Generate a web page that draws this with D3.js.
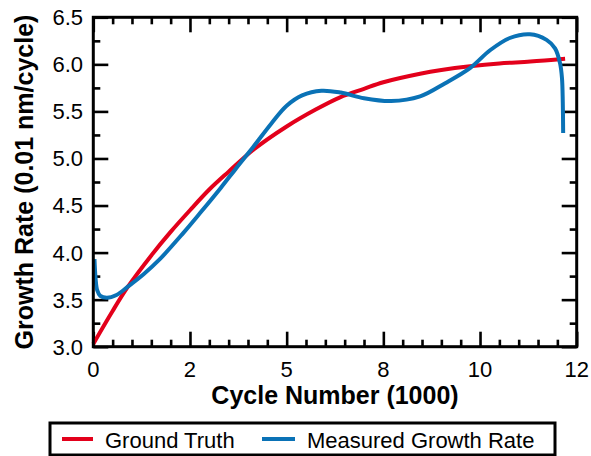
<!DOCTYPE html>
<html>
<head>
<meta charset="utf-8">
<script src="https://cdn.jsdelivr.net/npm/d3@7"></script>
<style>
  html, body { margin: 0; padding: 0; background: #fff; }
  svg { display: block; font-family: "Liberation Sans", Arial, sans-serif; }
</style>
</head>
<body>
<svg id="chart" width="591" height="456"></svg>
<script>
// Cycle number in thousands, growth rate in 0.01 nm/cycle
const groundTruthX = [0, 0.5, 0.9, 1.5, 2.0, 2.5, 3.0, 3.5, 4.13, 5.0, 5.75, 6.38, 7.0, 7.5, 8.45, 9.0, 9.74, 10.5, 11.3, 12.2];
const groundTruthY = [3.03, 3.38, 3.64, 3.97, 4.22, 4.45, 4.67, 4.86, 5.09, 5.34, 5.52, 5.65, 5.74, 5.81, 5.90, 5.94, 5.98, 6.01, 6.03, 6.06];

const measuredX = [0.03, 0.06, 0.1, 0.18, 0.35, 0.6, 0.9, 1.3, 1.72, 2.33, 2.76, 3.3, 3.7, 4.13, 4.6, 5.0, 5.4, 5.9, 6.4, 7.0, 7.7, 8.45, 9.1, 9.74, 10.26, 10.77, 11.29, 11.72, 11.94, 12.07, 12.12, 12.14, 12.15];
const measuredY = [3.93, 3.72, 3.60, 3.54, 3.52, 3.55, 3.64, 3.77, 3.93, 4.21, 4.42, 4.69, 4.90, 5.12, 5.37, 5.56, 5.67, 5.72, 5.70, 5.64, 5.61, 5.66, 5.80, 5.96, 6.15, 6.28, 6.32, 6.26, 6.17, 6.01, 5.85, 5.60, 5.27];

const xTickValues = [0, 2.5, 5, 7.5, 10, 12.5];
const xTickLabels = ["0", "2", "5", "8", "10", "12"];
const yTickValues = [3.0, 3.5, 4.0, 4.5, 5.0, 5.5, 6.0, 6.5];
const yTickLabels = ["3.0", "3.5", "4.0", "4.5", "5.0", "5.5", "6.0", "6.5"];

const seriesNames = ["Ground Truth", "Measured Growth Rate"];
const seriesColors = ["#e3001b", "#0a72b6"];

const svg = d3.select("#chart");
const plot = { left: 93.3, right: 576.7, top: 17.3, bottom: 346.7 };

const x = d3.scaleLinear().domain([0, 12.5]).range([plot.left, plot.right]);
const y = d3.scaleLinear().domain([3.0, 6.5]).range([plot.bottom, plot.top]);

const majorLen = 15, minorLen = 7;
const xMinor = d3.range(0, 12.5001, 0.5).filter(v => !xTickValues.some(t => Math.abs(t - v) < 1e-6));
const yMinor = d3.range(3.25, 6.5, 0.5);

// Inward ticks on all four sides
function tickAxis(axisGen, transform, values, len) {
  const g = svg.append("g").attr("transform", transform)
    .call(axisGen.tickValues(values).tickSize(-len).tickFormat(""));
  g.select(".domain").remove();
  g.selectAll(".tick line").attr("stroke", "#000").attr("stroke-width", 2.6);
  return g;
}
tickAxis(d3.axisBottom(x), `translate(0,${plot.bottom})`, xTickValues, majorLen);
tickAxis(d3.axisBottom(x), `translate(0,${plot.bottom})`, xMinor, minorLen);
tickAxis(d3.axisTop(x), `translate(0,${plot.top})`, xTickValues, majorLen);
tickAxis(d3.axisTop(x), `translate(0,${plot.top})`, xMinor, minorLen);
tickAxis(d3.axisLeft(y), `translate(${plot.left},0)`, yTickValues, majorLen);
tickAxis(d3.axisLeft(y), `translate(${plot.left},0)`, yMinor, minorLen);
tickAxis(d3.axisRight(y), `translate(${plot.right},0)`, yTickValues, majorLen);
tickAxis(d3.axisRight(y), `translate(${plot.right},0)`, yMinor, minorLen);

// Tick labels
svg.append("g").selectAll("text").data(xTickValues).join("text")
  .attr("x", d => x(d)).attr("y", 377)
  .attr("text-anchor", "middle").attr("font-size", 22).attr("fill", "#000")
  .text((d, i) => xTickLabels[i]);
svg.append("g").selectAll("text").data(yTickValues).join("text")
  .attr("x", 83).attr("y", d => y(d)).attr("dy", "0.36em")
  .attr("text-anchor", "end").attr("font-size", 22).attr("fill", "#000")
  .text((d, i) => yTickLabels[i]);

// Axis titles
svg.append("text")
  .attr("x", (plot.left + plot.right) / 2).attr("y", 403.5)
  .attr("text-anchor", "middle").attr("font-size", 25).attr("font-weight", "bold")
  .text("Cycle Number (1000)");
svg.append("text")
  .attr("transform", `translate(33,${(plot.top + plot.bottom) / 2}) rotate(-90)`)
  .attr("text-anchor", "middle").attr("font-size", 25).attr("font-weight", "bold")
  .text("Growth Rate (0.01 nm/cycle)");

// Curves
const line = d3.line().x(d => x(d[0])).y(d => y(d[1])).curve(d3.curveCatmullRom.alpha(0.5));
const gtPts = groundTruthX.map((v, i) => [v, groundTruthY[i]]);
const mPts = measuredX.map((v, i) => [v, measuredY[i]]);

svg.append("path").datum(gtPts).attr("d", line)
  .attr("fill", "none").attr("stroke", seriesColors[0]).attr("stroke-width", 4);
svg.append("path").datum(mPts).attr("d", line)
  .attr("fill", "none").attr("stroke", seriesColors[1]).attr("stroke-width", 4);

// Plot frame
svg.append("rect")
  .attr("x", plot.left).attr("y", plot.top)
  .attr("width", plot.right - plot.left).attr("height", plot.bottom - plot.top)
  .attr("fill", "none").attr("stroke", "#000").attr("stroke-width", 3);

// Legend
const legend = svg.append("g");
legend.append("rect")
  .attr("x", 50).attr("y", 423).attr("width", 505).attr("height", 32)
  .attr("fill", "#fff").attr("stroke", "#000").attr("stroke-width", 3);
const legendItems = [
  { name: seriesNames[0], color: seriesColors[0], x0: 62, x1: 93, tx: 105 },
  { name: seriesNames[1], color: seriesColors[1], x0: 262, x1: 295, tx: 307 }
];
legendItems.forEach(it => {
  legend.append("line").attr("x1", it.x0).attr("x2", it.x1).attr("y1", 439).attr("y2", 439)
    .attr("stroke", it.color).attr("stroke-width", 4);
  legend.append("text").attr("x", it.tx).attr("y", 447.5)
    .attr("font-size", 22).attr("fill", "#000").text(it.name);
});
</script>
</body>
</html>
